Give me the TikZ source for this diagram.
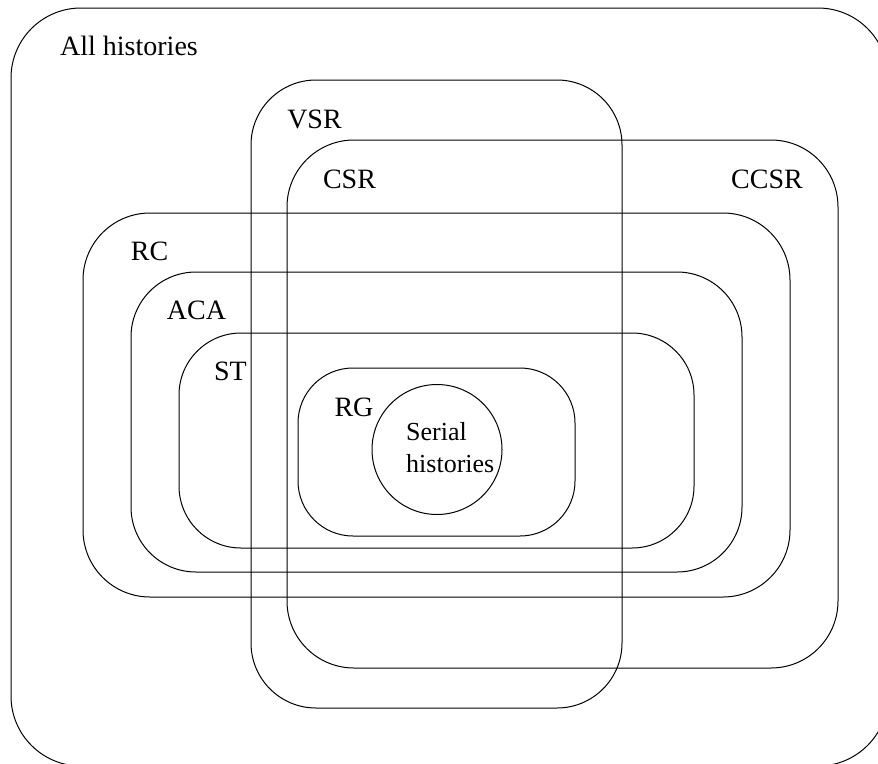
\documentclass[tikz,border=0pt]{standalone}
\usepackage{fontspec}
\setmainfont{Liberation Serif}
\begin{document}
\begin{tikzpicture}[x=1pt, y=-1pt,
  setbox/.style={draw, line width=1pt, inner sep=0pt, outer sep=0pt, rectangle},
  setlabel/.style={anchor=base, inner sep=0pt, font=\fontsize{28}{32}\selectfont},
]
\useasboundingbox (0,0) rectangle (878,763);
\clip (0,0) rectangle (878,763);

% nested classes of histories
\node[setbox, rounded corners=70pt, minimum width=877pt, minimum height=758pt] (all)  at (449.5,387) {};
\node[setbox, rounded corners=65pt, minimum width=371pt, minimum height=628pt] (vsr)  at (436.5,394) {};
\node[setbox, rounded corners=67pt, minimum width=551pt, minimum height=528pt] (csr)  at (562.5,404) {};
\node[setbox, rounded corners=67pt, minimum width=707pt, minimum height=384pt] (rc)   at (436.5,405) {};
\node[setbox, rounded corners=65pt, minimum width=611pt, minimum height=300pt] (aca)  at (436.5,422) {};
\node[setbox, rounded corners=62pt, minimum width=515pt, minimum height=215pt] (st)   at (436.5,440.5) {};
\node[setbox, rounded corners=55pt, minimum width=277pt, minimum height=168pt] (rg)   at (436.5,452) {};
\node[draw, line width=1pt, circle, inner sep=0pt, minimum size=130pt] (serial) at (437,449.5) {};

% labels
\node[setlabel] (lall)  at (129,55)    {All histories};
\node[setlabel] (lvsr)  at (314.5,128) {VSR};
\node[setlabel] (lcsr)  at (349.5,188) {CSR};
\node[setlabel] (lccsr) at (767,188)   {CCSR};
\node[setlabel] (lrc)   at (149.5,260) {RC};
\node[setlabel] (laca)  at (196.5,319) {ACA};
\node[setlabel] (lst)   at (230.5,380) {ST};
\node[setlabel] (lrg)   at (354,416)   {RG};
\node[anchor=base west, inner sep=0pt, font=\fontsize{26}{32}\selectfont] (lser1) at (406,440) {Serial};
\node[anchor=base west, inner sep=0pt, font=\fontsize{26}{32}\selectfont] (lser2) at (406,472) {histories};
\end{tikzpicture}
\end{document}
